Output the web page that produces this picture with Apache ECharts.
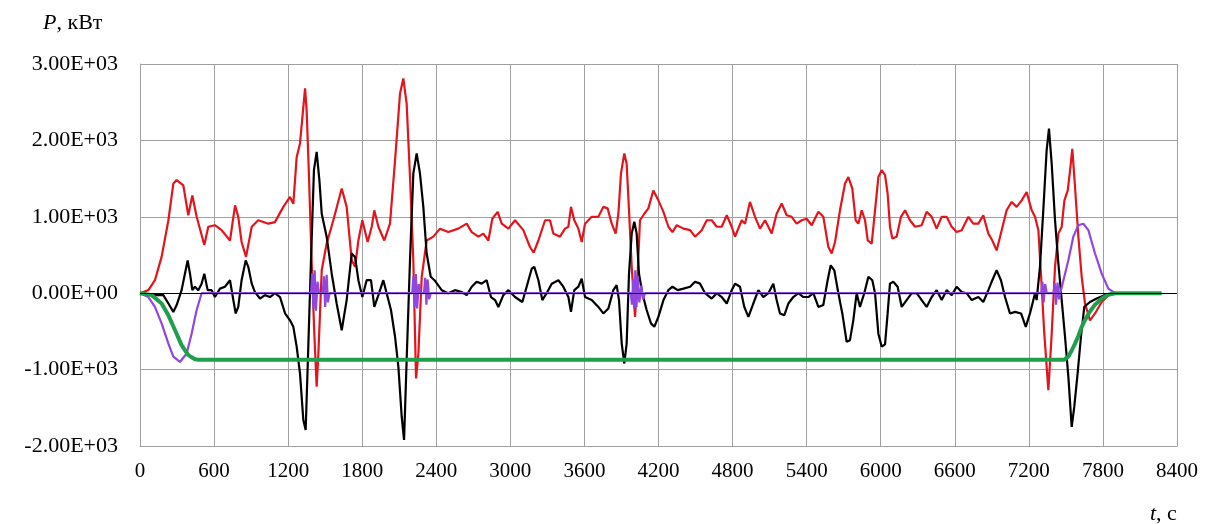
<!DOCTYPE html>
<html>
<head>
<meta charset="utf-8">
<script src="https://cdn.jsdelivr.net/npm/echarts@6/dist/echarts.min.js"></script>
<style>
  html, body { margin: 0; padding: 0; background: #fff; }
  #chart { width: 1206px; height: 524px; }
</style>
</head>
<body>
<div id="chart"></div>
<script>
// ticks
var xTicks = [0, 600, 1200, 1800, 2400, 3000, 3600, 4200, 4800, 5400, 6000, 6600, 7200, 7800, 8400]
var yTicks = [-2000, -1000, 0, 1000, 2000, 3000]

// [t, P]
var red = [
  [0,0],[68,40],[121,170],[175,475],[230,955],[270,1435],[297,1480],[351,1410],[391,1020],[424,1280],
  [459,1000],[521,630],[553,870],[607,890],[661,825],[729,690],[770,1150],[796,1000],[823,670],[859,475],
  [905,870],[958,955],[1040,910],[1093,930],[1161,1130],[1215,1260],[1242,1170],[1269,1780],[1296,1960],
  [1337,2680],[1350,2390],[1369,1520],[1390,430],[1412,-530],[1431,-1225],[1445,-790],[1472,300],[1512,650],
  [1566,955],[1634,1370],[1674,1130],[1715,430],[1742,345],[1769,690],[1801,955],[1844,670],[1877,870],
  [1898,1085],[1931,870],[1979,690],[2025,910],[2066,1740],[2106,2610],[2133,2810],[2160,2480],[2187,1520],
  [2214,430],[2236,-1115],[2255,-790],[2282,215],[2322,690],[2376,740],[2430,845],[2497,800],[2578,845],
  [2646,910],[2687,800],[2741,740],[2781,780],[2822,690],[2854,975],[2897,1065],[2930,910],[2984,845],
  [3038,955],[3105,825],[3159,605],[3189,530],[3227,690],[3281,955],[3321,955],[3348,780],[3402,740],
  [3443,845],[3470,870],[3491,1130],[3518,955],[3551,845],[3578,670],[3605,910],[3659,1000],[3713,1000],
  [3753,1130],[3788,1110],[3821,910],[3853,780],[3875,1040],[3896,1565],[3923,1830],[3942,1695],[3961,1085],
  [3983,345],[4010,-310],[4031,255],[4050,955],[4085,1040],[4118,1110],[4158,1345],[4199,1215],[4240,1065],
  [4280,870],[4313,800],[4348,890],[4402,845],[4456,825],[4496,740],[4550,825],[4591,955],[4631,955],
  [4672,870],[4712,870],[4753,1020],[4793,870],[4820,740],[4874,955],[4901,910],[4941,1195],[4982,1000],
  [5022,845],[5063,955],[5117,780],[5157,1040],[5198,1175],[5238,1020],[5279,1000],[5319,910],[5360,955],
  [5400,975],[5441,890],[5495,1065],[5535,1000],[5576,605],[5603,520],[5630,670],[5670,1085],[5711,1435],
  [5738,1520],[5770,1370],[5797,955],[5819,910],[5846,1085],[5873,955],[5895,690],[5927,650],[5954,1085],
  [5981,1520],[6008,1610],[6035,1545],[6056,1305],[6075,870],[6094,715],[6129,740],[6164,1000],[6197,1085],
  [6237,955],[6278,870],[6332,890],[6372,1065],[6413,1000],[6453,845],[6494,1000],[6534,1000],[6575,870],
  [6615,800],[6656,825],[6710,1000],[6750,910],[6791,910],[6831,1020],[6872,780],[6904,690],[6939,560],
  [6980,825],[7020,1085],[7061,1195],[7101,1130],[7142,1215],[7182,1325],[7223,1085],[7250,1000],[7277,825],
  [7298,255],[7325,-530],[7358,-1270],[7385,-530],[7412,345],[7439,780],[7466,870],[7488,1215],[7515,1345],
  [7534,1610],[7552,1890],[7574,1390],[7601,740],[7628,215],[7655,-135],[7695,-355],[7736,-265],[7790,-115],
  [7844,-25],[7898,0]
]

var black = [
  [0,0],[121,-25],[189,-25],[230,-135],[270,-245],[297,-155],[337,40],[364,255],[386,430],[405,255],
  [424,40],[445,85],[472,40],[499,125],[521,255],[548,40],[580,40],[607,-50],[648,60],[688,85],[729,170],
  [756,-90],[775,-265],[796,-180],[823,170],[856,430],[877,345],[905,125],[931,15],[972,-70],[1012,-25],
  [1053,-50],[1093,0],[1134,-50],[1175,-265],[1215,-355],[1242,-440],[1269,-700],[1296,-1050],[1323,-1660],
  [1342,-1790],[1364,-660],[1385,430],[1409,1610],[1431,1850],[1453,1480],[1472,1040],[1512,740],[1553,255],
  [1593,-135],[1634,-485],[1674,-90],[1715,520],[1742,475],[1769,170],[1801,-50],[1836,170],[1871,170],
  [1898,-180],[1931,-25],[1971,170],[1998,0],[2033,-220],[2066,-570],[2093,-965],[2120,-1620],[2139,-1920],
  [2160,-875],[2187,430],[2214,1565],[2241,1830],[2268,1565],[2295,1130],[2322,520],[2355,215],[2385,170],
  [2444,40],[2497,0],[2551,40],[2605,15],[2646,-25],[2687,85],[2727,150],[2768,125],[2808,170],[2843,-50],
  [2876,-90],[2903,-180],[2943,-25],[2984,40],[3038,-50],[3097,-115],[3132,85],[3173,320],[3194,345],
  [3227,170],[3259,-90],[3294,0],[3335,125],[3389,170],[3429,85],[3470,-50],[3491,-245],[3518,40],[3551,85],
  [3578,190],[3605,-50],[3659,-90],[3713,-180],[3753,-265],[3794,-200],[3834,40],[3861,105],[3880,-90],
  [3902,-660],[3923,-920],[3942,-660],[3961,255],[3983,780],[4004,935],[4023,780],[4042,255],[4069,0],
  [4104,-220],[4139,-395],[4166,-440],[4199,-310],[4240,-90],[4280,40],[4313,85],[4356,40],[4402,60],
  [4456,85],[4496,150],[4537,125],[4577,0],[4631,-70],[4672,0],[4712,-50],[4753,-135],[4793,40],[4820,125],
  [4860,85],[4895,-180],[4928,-310],[4968,-135],[5009,40],[5049,-50],[5090,0],[5130,125],[5157,-90],
  [5184,-265],[5219,-290],[5252,-135],[5292,-50],[5333,0],[5373,-50],[5414,-50],[5454,0],[5495,-180],
  [5535,-155],[5570,170],[5595,365],[5624,300],[5657,0],[5689,-265],[5724,-635],[5751,-615],[5778,-355],
  [5805,0],[5832,-180],[5867,0],[5900,215],[5932,170],[5954,0],[5981,-530],[6008,-700],[6035,-670],
  [6056,-265],[6075,125],[6102,150],[6137,85],[6170,-180],[6210,-90],[6251,0],[6291,0],[6332,-90],
  [6372,-180],[6413,-50],[6453,40],[6494,-90],[6534,40],[6575,-25],[6615,85],[6656,15],[6696,0],[6737,-90],
  [6791,-50],[6831,-115],[6872,40],[6904,170],[6939,300],[6974,170],[7007,-50],[7047,-265],[7088,-245],
  [7137,-265],[7175,-440],[7209,-265],[7250,0],[7263,-90],[7290,345],[7317,1085],[7344,1870],[7363,2155],
  [7385,1695],[7412,955],[7439,390],[7466,-90],[7493,-570],[7520,-1095],[7547,-1750],[7568,-1485],
  [7595,-1050],[7622,-570],[7649,-180],[7695,-115],[7749,-70],[7817,-25],[7884,0]
]

var purple = [
  [0,0],[68,-50],[121,-180],[175,-395],[230,-660],[270,-830],[324,-900],[378,-790],[418,-530],[459,-220],
  [499,0],[1385,0],[1395,260],[1405,-200],[1415,300],[1425,-230],[1438,150],[1450,0],[1480,0],[1490,220],
  [1500,-180],[1512,240],[1522,-120],[1535,0],[2205,0],[2215,220],[2225,-180],[2235,250],[2245,-200],
  [2258,120],[2270,0],[2300,0],[2310,200],[2320,-150],[2330,180],[2342,-80],[2355,0],[3975,0],[3985,-150],
  [3995,180],[4005,-200],[4012,300],[4022,-180],[4032,220],[4045,-120],[4060,100],[4075,-80],[4090,0],
  [7300,0],[7310,150],[7320,-120],[7332,120],[7345,0],[7400,0],[7410,130],[7420,-150],[7432,140],[7445,-80],
  [7460,40],[7520,430],[7560,740],[7601,890],[7641,910],[7682,825],[7736,520],[7790,255],[7844,60],[7898,0]
]

var green = [
  [0,0],[95,-25],[175,-135],[230,-290],[284,-485],[337,-680],[391,-810],[445,-865],[472,-870],
  [7488,-870],[7520,-830],[7547,-750],[7574,-660],[7601,-560],[7628,-440],[7655,-350],[7695,-240],
  [7736,-150],[7790,-70],[7844,-20],[7898,0],[8276,0]
]

var chartDom = document.getElementById('chart')
var myChart = echarts.init(chartDom)

function sci(v){
  if (v === 0) return '0.00E+00'
  var e = Math.floor(Math.log10(Math.abs(v)))
  var m = (v / Math.pow(10, e)).toFixed(2)
  return m + 'E+' + (e < 10 ? '0' + e : e)
}

var serif = '"Liberation Serif", "DejaVu Serif", serif'

const option = {
  animation: false,
  title: [
    {
      text: '{i|P}, кВт',
      left: 38, top: 7,
      textStyle: {
        fontFamily: serif, fontSize: 22, fontWeight: 'normal', color: '#000',
        rich: { i: { fontFamily: serif, fontSize: 22, fontStyle: 'italic', color: '#000' } }
      }
    },
    {
      text: '{i|t}, с',
      left: 1145, top: 498,
      textStyle: {
        fontFamily: serif, fontSize: 22, fontWeight: 'normal', color: '#000',
        rich: { i: { fontFamily: serif, fontSize: 22, fontStyle: 'italic', color: '#000' } }
      }
    }
  ],
  grid: {
    left: 140,
    right: 29,
    top: 64,
    bottom: 78
  },
  xAxis: {
    type: 'value',
    min: xTicks[0],
    max: xTicks[xTicks.length - 1],
    interval: 600,
    axisLine: { show: true, onZero: false, lineStyle: { color: '#a0a0a0', width: 1 } },
    axisTick: { show: false },
    axisLabel: { color: '#000', fontFamily: serif, fontSize: 21, margin: 15, formatter: function(v){ return String(v) } },
    splitLine: { show: true, lineStyle: { color: '#a0a0a0', width: 1 } }
  },
  yAxis: {
    type: 'value',
    min: yTicks[0],
    max: yTicks[yTicks.length - 1],
    interval: 1000,
    axisLine: { show: true, lineStyle: { color: '#a0a0a0', width: 1 } },
    axisTick: { show: false },
    axisLabel: { color: '#000', fontFamily: serif, fontSize: 22, margin: 22, formatter: sci },
    splitLine: { show: true, lineStyle: { color: '#a0a0a0', width: 1 } }
  },
  series: [
    {
      type: 'line',
      data: red,
      showSymbol: false,
      lineStyle: { color: '#e3141b', width: 2.2 },
      itemStyle: { color: '#e3141b' },
      markLine: {
        silent: true,
        symbol: 'none',
        label: { show: false },
        lineStyle: { color: '#000', width: 1, type: 'solid' },
        data: [{ yAxis: 0 }]
      }
    },
    {
      type: 'line',
      data: black,
      showSymbol: false,
      lineStyle: { color: '#000', width: 2.2 },
      itemStyle: { color: '#000' }
    },
    {
      type: 'line',
      data: purple,
      showSymbol: false,
      lineStyle: { color: '#9146e0', width: 2.2 },
      itemStyle: { color: '#9146e0' }
    },
    {
      type: 'line',
      data: green,
      showSymbol: false,
      lineStyle: { color: '#1f9e4c', width: 4 },
      itemStyle: { color: '#1f9e4c' }
    }
  ]
}

myChart.setOption(option)
</script>
</body>
</html>
